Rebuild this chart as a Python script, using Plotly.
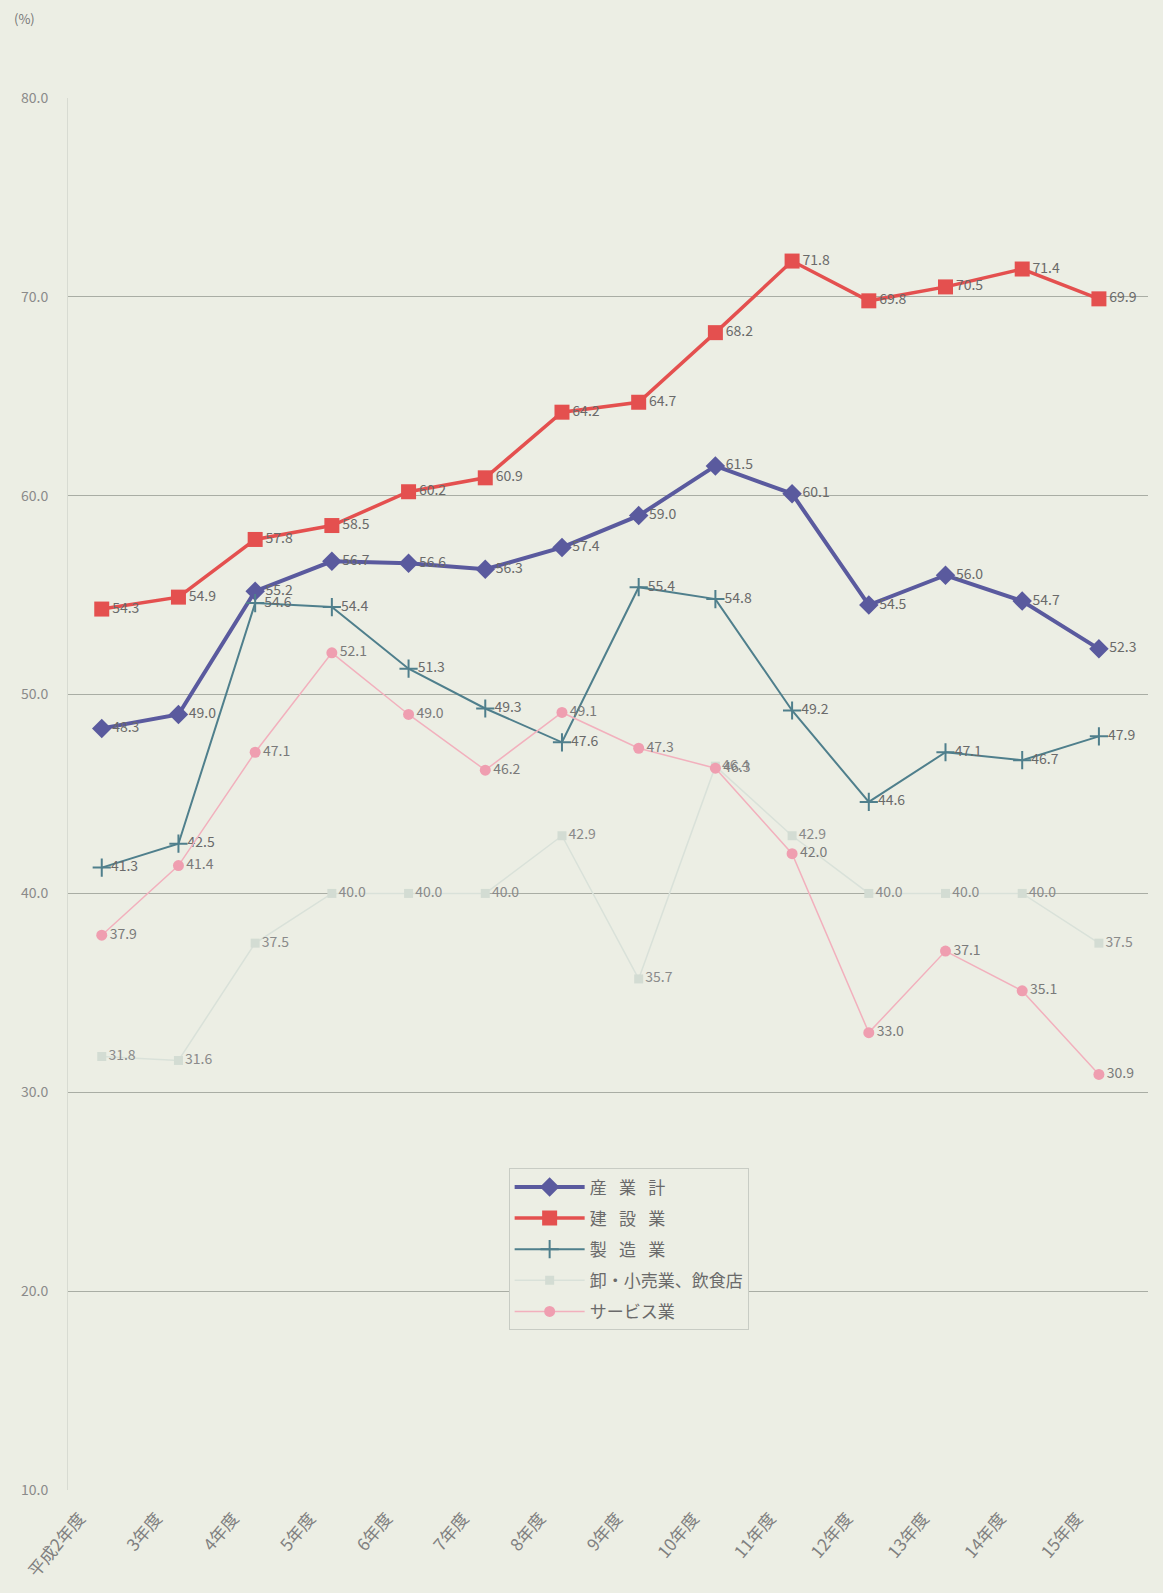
import plotly.graph_objects as go

categories = ["平成2年度", "3年度", "4年度", "5年度", "6年度", "7年度", "8年度",
              "9年度", "10年度", "11年度", "12年度", "13年度", "14年度", "15年度"]

sangyo_kei = [48.3, 49.0, 55.2, 56.7, 56.6, 56.3, 57.4, 59.0, 61.5, 60.1, 54.5, 56.0, 54.7, 52.3]
kensetsu = [54.3, 54.9, 57.8, 58.5, 60.2, 60.9, 64.2, 64.7, 68.2, 71.8, 69.8, 70.5, 71.4, 69.9]
seizo = [41.3, 42.5, 54.6, 54.4, 51.3, 49.3, 47.6, 55.4, 54.8, 49.2, 44.6, 47.1, 46.7, 47.9]
oroshi = [31.8, 31.6, 37.5, 40.0, 40.0, 40.0, 42.9, 35.7, 46.4, 42.9, 40.0, 40.0, 40.0, 37.5]
service = [37.9, 41.4, 47.1, 52.1, 49.0, 46.2, 49.1, 47.3, 46.3, 42.0, 33.0, 37.1, 35.1, 30.9]

y_ticks = [10, 20, 30, 40, 50, 60, 70, 80]

BG = "#eceee4"
FONT = "Noto Sans CJK JP"
SP = "\u2002 "

series = [
    (f"産{SP}業{SP}計", sangyo_kei, "#5a5a9e", 4, "diamond", 15, "#5a5a9e", "#6a6a6a"),
    (f"建{SP}設{SP}業", kensetsu, "#e4504f", 3.5, "square", 15, "#e4504f", "#6a6a6a"),
    (f"製{SP}造{SP}業", seizo, "#4f7f8c", 2, "cross-thin", 13, "#4f7f8c", "#6a6a6a"),
    ("卸・小売業、飲食店", oroshi, "#d9e1d9", 1.5, "square", 9, "#d3dcd3", "#8a8a8a"),
    ("サービス業", service, "#f2b0bd", 1.5, "circle", 11, "#ef9eb0", "#7a7a7a"),
]

fig = go.Figure()
for i, (name, vals, color, lw, sym, ms, mcol, tcol) in enumerate(series):
    marker = dict(symbol=sym, size=ms, color=mcol)
    if sym == "cross-thin":
        marker["line"] = dict(width=2, color=mcol)
    fig.add_trace(go.Scatter(
        x=categories, y=vals, name=name, legendgroup=f"g{i}",
        mode="lines+markers+text",
        line=dict(color=color, width=lw),
        marker=marker,
        text=[f"{v:.1f}" for v in vals],
        textposition="middle right",
        textfont=dict(family=FONT, size=14, color=tcol),
        cliponaxis=False,
    ))

fig.update_layout(
    width=1163, height=1593,
    paper_bgcolor=BG, plot_bgcolor=BG,
    margin=dict(l=68, r=15, t=98, b=103),
    font=dict(family=FONT, color="#777777"),
    showlegend=True,
    legend=dict(
        x=0.408, y=0.231, xanchor="left", yanchor="top",
        bgcolor=BG, bordercolor="#c8ccc4", borderwidth=1,
        font=dict(family=FONT, size=17, color="#6a6a6a"),
        itemwidth=70, tracegroupgap=6,
    ),
    annotations=[dict(
        text="(%)", x=0, y=1, xref="paper", yref="paper",
        xanchor="left", yanchor="bottom", xshift=-56, yshift=68,
        showarrow=False, font=dict(family=FONT, size=13, color="#777777"),
    )],
)
fig.update_xaxes(
    type="category", showgrid=False, zeroline=False, automargin=False,
    range=[-0.44, 13.64],
    tickangle=-50, tickfont=dict(family=FONT, size=17, color="#808080"),
    ticks="", showline=False, ticklabelstandoff=14, ticklabelshift=-22,
)
fig.update_yaxes(
    range=[10, 80], tickvals=y_ticks, ticktext=[f"{v:.1f}" for v in y_ticks],
    showgrid=True, gridcolor="#a9ada4", gridwidth=1, zeroline=False,
    showline=True, linecolor="#d8dbd2", linewidth=1, automargin=False,
    tickfont=dict(family=FONT, size=14, color="#8a8a8a"),
    ticklabelstandoff=16,
)

fig.write_html("out.html", config={"displayModeBar": False},
               post_script="document.body.style.margin='0';")
